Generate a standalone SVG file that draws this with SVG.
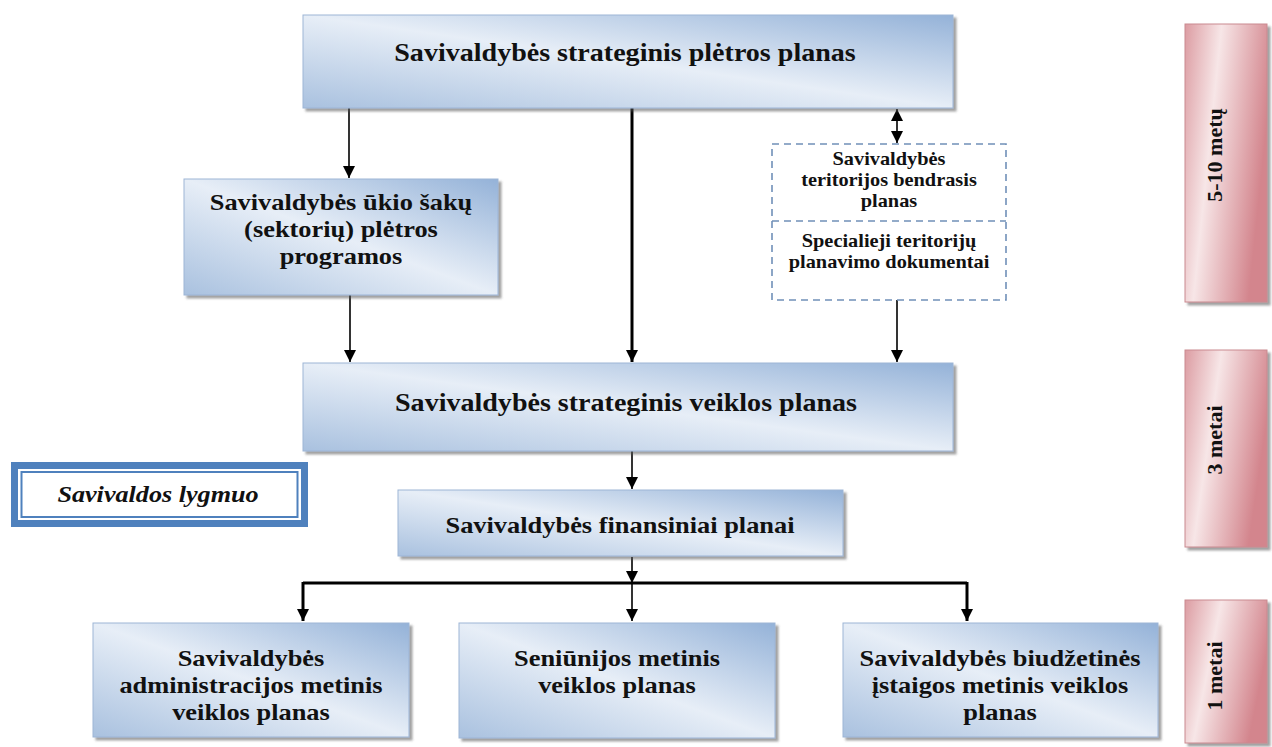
<svg xmlns="http://www.w3.org/2000/svg" width="1272" height="747" viewBox="0 0 1272 747">
<defs>
<linearGradient id="gb" x1="0" y1="1" x2="1" y2="0">
<stop offset="0" stop-color="#a9c1df"/>
<stop offset="0.5" stop-color="#e7eef7"/>
<stop offset="1" stop-color="#94b2d8"/>
</linearGradient>
<linearGradient id="gp" x1="0" y1="0" x2="1" y2="0.35">
<stop offset="0" stop-color="#dc9ca2"/>
<stop offset="0.4" stop-color="#f7e6e7"/>
<stop offset="1" stop-color="#d3858d"/>
</linearGradient>
<filter id="sh" x="-5%" y="-5%" width="115%" height="125%">
<feDropShadow dx="3" dy="3" stdDeviation="1.2" flood-color="#555" flood-opacity="0.55"/>
</filter>
<marker id="ah" viewBox="0 0 10 10" refX="10" refY="5" markerWidth="12" markerHeight="12" markerUnits="userSpaceOnUse" orient="auto-start-reverse">
<path d="M0,0 L10,5 L0,10 z" fill="#000"/>
</marker>
</defs>
<style>
.box{fill:url(#gb);stroke:#9db5d6;stroke-width:1;filter:url(#sh)}
.pink{fill:url(#gp);stroke:#c98a90;stroke-width:1;filter:url(#sh)}
.t{font-family:"Liberation Serif","Times New Roman",serif;font-weight:bold;font-size:24px;fill:#111;text-anchor:middle}
.tl{font-family:"Liberation Serif","Times New Roman",serif;font-weight:bold;font-size:25.5px;fill:#111;text-anchor:middle}
.ts{font-family:"Liberation Serif","Times New Roman",serif;font-weight:bold;font-size:18.5px;fill:#111;text-anchor:middle}
.tr{font-family:"Liberation Serif","Times New Roman",serif;font-weight:bold;font-size:22px;fill:#111;text-anchor:middle}
.c{stroke:#000;fill:none;stroke-width:1.6}
.ck{stroke:#000;fill:none;stroke-width:3}
</style>
<rect width="1272" height="747" fill="#fff"/>

<g id="connectors">
<path class="c" d="M349,108 V178" marker-end="url(#ah)"/>
<path class="ck" d="M632,108 V362" marker-end="url(#ah)"/>
<path class="c" d="M897,109 V143" marker-start="url(#ah)" marker-end="url(#ah)"/>
<path class="c" d="M350,295 V362" marker-end="url(#ah)"/>
<path class="c" d="M897,300 V362" marker-end="url(#ah)"/>
<path class="c" d="M632,451 V489" marker-end="url(#ah)"/>
<path class="c" d="M632,557 V583" marker-end="url(#ah)"/>
<path class="ck" d="M303,583 H967"/>
<path class="ck" d="M303,582 V621" marker-end="url(#ah)"/>
<path class="c" d="M632,583 V621" marker-end="url(#ah)"/>
<path class="ck" d="M967,582 V621" marker-end="url(#ah)"/>
</g>

<g id="n-strateginis-pletros">
<rect class="box" x="303" y="15" width="650" height="93"/>
<text class="tl" transform="translate(625,61) scale(1.1,1)">Savivaldybės strateginis plėtros planas</text>
</g>

<g id="n-ukio-saku">
<rect class="box" x="184" y="179" width="314" height="116"/>
<text class="t" transform="translate(341,210) scale(1.1,1)">Savivaldybės ūkio šakų</text>
<text class="t" transform="translate(341,237) scale(1.1,1)">(sektorių) plėtros</text>
<text class="t" transform="translate(341,264) scale(1.1,1)">programos</text>
</g>

<g id="n-teritorijos">
<rect x="772" y="144" width="234" height="156" fill="#fff" stroke="#7090b8" stroke-width="1.6" stroke-dasharray="7,5"/>
<path d="M772,221 H1006" stroke="#7090b8" stroke-width="1.6" stroke-dasharray="7,5" fill="none"/>
<text class="ts" transform="translate(889,165) scale(1.1,1)">Savivaldybės</text>
<text class="ts" transform="translate(889,186) scale(1.1,1)">teritorijos bendrasis</text>
<text class="ts" transform="translate(889,207) scale(1.1,1)">planas</text>
<text class="ts" transform="translate(889,247) scale(1.1,1)">Specialieji teritorijų</text>
<text class="ts" transform="translate(889,268) scale(1.1,1)">planavimo dokumentai</text>
</g>

<g id="n-strateginis-veiklos">
<rect class="box" x="303" y="363" width="650" height="88"/>
<text class="tl" transform="translate(626,411) scale(1.1,1)">Savivaldybės strateginis veiklos planas</text>
</g>

<g id="n-savivaldos-lygmuo">
<rect x="11" y="462" width="297" height="65" fill="#4f81bd"/>
<rect x="18" y="469" width="283" height="51" fill="#fff"/>
<rect x="21.5" y="472" width="276" height="45" fill="#fff" stroke="#4f81bd" stroke-width="2"/>
<text transform="translate(158,502) scale(1.09,1)" font-family="Liberation Serif, Times New Roman, serif" font-weight="bold" font-style="italic" font-size="24" fill="#111" text-anchor="middle">Savivaldos lygmuo</text>
</g>

<g id="n-finansiniai">
<rect class="box" x="398" y="490" width="445" height="66"/>
<text class="t" transform="translate(620,533) scale(1.1,1)">Savivaldybės finansiniai planai</text>
</g>

<g id="n-administracijos">
<rect class="box" x="93" y="623" width="316" height="114"/>
<text class="t" transform="translate(251,666) scale(1.1,1)">Savivaldybės</text>
<text class="t" transform="translate(251,693) scale(1.1,1)">administracijos metinis</text>
<text class="t" transform="translate(251,720) scale(1.1,1)">veiklos planas</text>
</g>

<g id="n-seniunijos">
<rect class="box" x="459" y="623" width="316" height="115"/>
<text class="t" transform="translate(617,666) scale(1.1,1)">Seniūnijos metinis</text>
<text class="t" transform="translate(617,693) scale(1.1,1)">veiklos planas</text>
</g>

<g id="n-biudzetines">
<rect class="box" x="843" y="623" width="315" height="114"/>
<text class="t" transform="translate(1000,666) scale(1.1,1)">Savivaldybės biudžetinės</text>
<text class="t" transform="translate(1000,693) scale(1.1,1)">įstaigos metinis veiklos</text>
<text class="t" transform="translate(1000,720) scale(1.1,1)">planas</text>
</g>

<g id="n-5-10-metu">
<rect class="pink" x="1185" y="24" width="82" height="278"/>
<text class="tr" transform="translate(1222,155) rotate(-90)">5-10 metų</text>
</g>

<g id="n-3-metai">
<rect class="pink" x="1185" y="350" width="82" height="197"/>
<text class="tr" transform="translate(1222,440) rotate(-90)">3 metai</text>
</g>

<g id="n-1-metai">
<rect class="pink" x="1185" y="600" width="82" height="143"/>
<text class="tr" transform="translate(1222,676) rotate(-90)">1 metai</text>
</g>
</svg>
